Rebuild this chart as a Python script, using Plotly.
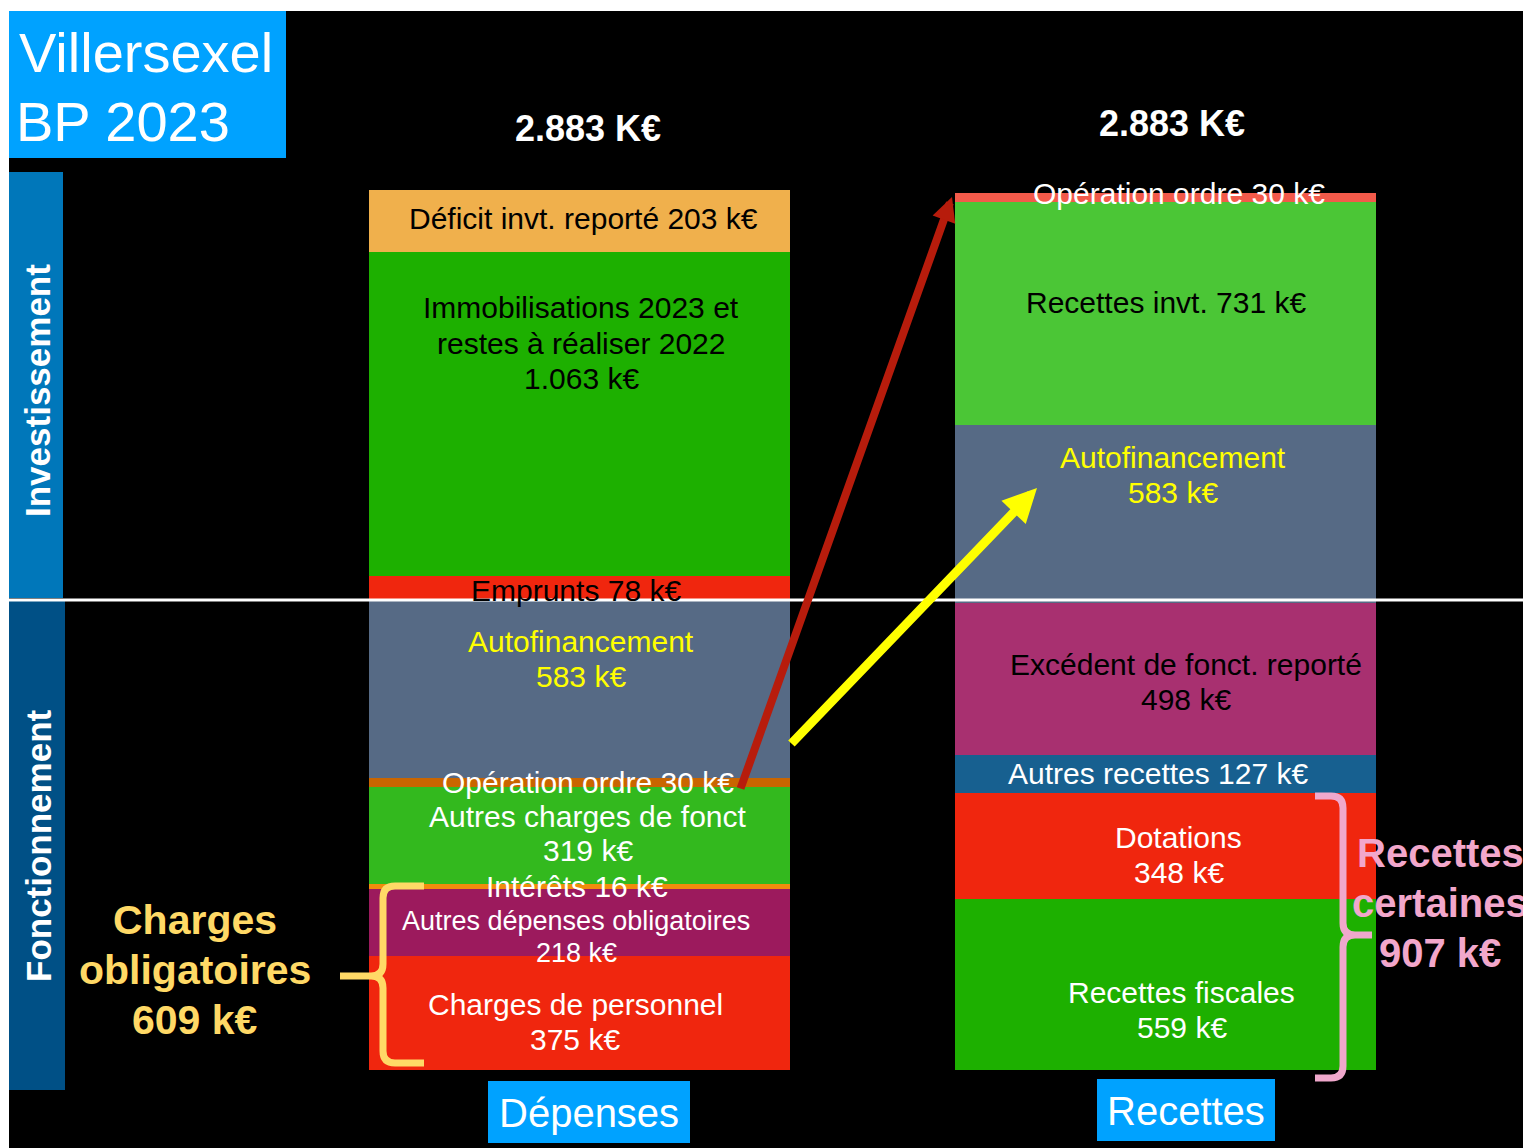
import plotly.graph_objects as go

# ---------------- data ----------------
categories = ["Dépenses", "Recettes"]

depenses_labels = ["Charges de personnel<br>{v} k€",
                   "Autres dépenses obligatoires<br>{v} k€",
                   "Intérêts {v} k€",
                   "Autres charges de fonct<br>{v} k€",
                   "Opération ordre {v} k€",
                   "Autofinancement<br>{v} k€",
                   "Emprunts {v} k€",
                   "Immobilisations 2023 et<br>restes à réaliser 2022<br>{v} k€",
                   "Déficit invt. reporté {v} k€"]
depenses_values = [375, 218, 16, 319, 30, 583, 78, 1063, 203]

recettes_labels = ["Recettes fiscales<br>{v} k€",
                   "Dotations<br>{v} k€",
                   "Autres recettes {v} k€",
                   "Excédent de fonct. reporté<br>{v} k€",
                   "Autofinancement<br>{v} k€",
                   "Recettes invt. {v} k€",
                   "Opération ordre {v} k€"]
recettes_values = [559, 348, 127, 498, 583, 731, 30]

totals = [2883, 2883]
charges_obligatoires = 609
recettes_certaines = 907

# ---------------- styles ----------------
dep_colors = ["#F0260E", "#9C1A5D", "#F28C0C", "#33B91E", "#C96500",
              "#566A85", "#F0260E", "#1DB000", "#F0B04C"]
dep_text_colors = ["white", "white", "white", "white", "white",
                   "#FFFF00", "black", "black", "black"]
dep_dx = [-4, -3, -2, 9, 9, 2, -3, 2, 4]
dep_dy = [-9, -15, 0, 2, 0, 30, -2, 71, 2]
dep_fs = [30, 27, 30, 30, 30, 30, 30, 30, 30]
dep_ls = [35, 32, 35, 34, 35, 35, 35, 35.5, 35]

rec_colors = ["#1DB000", "#F0260E", "#176090", "#A83070", "#566A85",
              "#4BC636", "#F25A4A"]
rec_text_colors = ["white", "white", "white", "black", "#FFFF00",
                   "black", "white"]
rec_dx = [16, 13, -8, 20, 7, 0, 13]
rec_dy = [-25, -9, 0, -3, 39, 11, 4]
rec_fs = [30] * 7
rec_ls = [35] * 7

W, H = 1531, 1148
OFF = 8  # page margin offset of the figure on screen
FONT = "Liberation Sans, Arial, sans-serif"


def fmt(v):
    return f"{v:,}".replace(",", ".")


def px(x):
    return (x - OFF) / W


def py(y):
    return 1 - (y - OFF) / H


# pixel mapping of axes (figure pixels)
bottom_px, top_px = 1070 - OFF, 190 - OFF
kpx = (bottom_px - top_px) / sum(depenses_values)
cat_c0, cat_step = 579 - OFF, 586.5
bar_w = 421 / cat_step

fig = go.Figure()


def add_stack(cat, labels, values, colors):
    for lab, v, c in zip(labels, values, colors):
        fig.add_trace(go.Bar(
            x=[cat], y=[v], width=bar_w, marker=dict(color=c, line=dict(width=0)),
            name=lab.split("<br>")[0].replace(" {v} k€", ""),
            showlegend=False, hoverinfo="skip"))


add_stack(categories[0], depenses_labels, depenses_values, dep_colors)
add_stack(categories[1], recettes_labels, recettes_values, rec_colors)

annotations = []


def add_labels(cat, labels, values, tcolors, dx, dy, fs, ls):
    cum = 0
    for lab, v, tc, sx, sy, f, sp in zip(labels, values, tcolors, dx, dy, fs, ls):
        lines = lab.format(v=fmt(v)).split("<br>")
        n = len(lines)
        for i, line in enumerate(lines):
            off = (i - (n - 1) / 2) * sp
            annotations.append(dict(
                x=cat, y=cum + v / 2, xref="x", yref="y", showarrow=False,
                xanchor="center", yanchor="middle",
                text=line, xshift=sx, yshift=sy - off,
                font=dict(family=FONT, size=f, color=tc), align="center"))
        cum += v


add_labels(categories[0], depenses_labels, depenses_values, dep_text_colors,
           dep_dx, dep_dy, dep_fs, dep_ls)
add_labels(categories[1], recettes_labels, recettes_values, rec_text_colors,
           rec_dx, rec_dy, rec_fs, rec_ls)

# totals above bars
for cat, t, sy, sx in zip(categories, totals, [62, 67], [9, 6]):
    annotations.append(dict(
        x=cat, y=sum(depenses_values), xref="x", yref="y", showarrow=False,
        xanchor="center", yanchor="middle",
        text=f"<b>{fmt(t)} K€</b>", yshift=sy, xshift=sx,
        font=dict(family=FONT, size=36, color="white")))


def rect(x0, y0, x1, y1, color, layer="below"):
    return dict(type="rect", xref="paper", yref="paper", x0=px(x0), x1=px(x1),
                y0=py(y1), y1=py(y0), fillcolor=color, line_width=0, layer=layer)


shapes = []
shapes.append(dict(type="rect", xref="paper", yref="paper", x0=px(9), x1=1,
                   y0=0, y1=py(11), fillcolor="black", line_width=0, layer="below"))
shapes.append(rect(9, 11, 286, 158, "#00A2FF"))          # title box
shapes.append(rect(9, 172, 63, 598, "#0077BA"))          # Investissement band
shapes.append(rect(9, 601, 65, 1090, "#005086"))         # Fonctionnement band
shapes.append(rect(488, 1081, 690, 1143, "#00A2FF"))     # Dépenses box
shapes.append(rect(1097, 1079, 1275, 1141, "#00A2FF"))   # Recettes box
shapes.append(dict(type="line", xref="paper", yref="paper", x0=px(9), x1=1,
                   y0=py(600), y1=py(600), line=dict(color="white", width=3), layer="above"))


def path(pts):
    out = []
    for p in pts:
        if isinstance(p, str):
            out.append(p)
        else:
            out.append(f"{px(p[0]):.5f},{py(p[1]):.5f}")
    return " ".join(out)


# yellow brace
yb = path(["M", (424, 886), "L", (395, 886), "Q", (383, 886), (383, 898),
           "L", (383, 964), "Q", (383, 976), (371, 976), "L", (340, 976),
           "M", (371, 976), "Q", (383, 976), (383, 988), "L", (383, 1051),
           "Q", (383, 1063), (395, 1063), "L", (424, 1063)])
shapes.append(dict(type="path", xref="paper", yref="paper", path=yb,
                   line=dict(color="#FFD966", width=7), layer="above"))
# pink brace
pb = path(["M", (1315, 796), "L", (1331, 796), "Q", (1343, 796), (1343, 808),
           "L", (1343, 923), "Q", (1343, 935), (1355, 935), "L", (1372, 935),
           "M", (1355, 935), "Q", (1343, 935), (1343, 947), "L", (1343, 1066),
           "Q", (1343, 1078), (1331, 1078), "L", (1315, 1078)])
shapes.append(dict(type="path", xref="paper", yref="paper", path=pb,
                   line=dict(color="#F0A8CC", width=7), layer="above"))

# arrows
annotations.append(dict(x=px(952), y=py(197), xref="paper", yref="paper",
                        ax=740 - 952, ay=790 - 197, axref="pixel", ayref="pixel",
                        text="", showarrow=True, arrowhead=2, arrowsize=0.6,
                        arrowwidth=8, arrowcolor="#B71C0C"))
annotations.append(dict(x=px(1037), y=py(488), xref="paper", yref="paper",
                        ax=790 - 1037, ay=745 - 488, axref="pixel", ayref="pixel",
                        text="", showarrow=True, arrowhead=2, arrowsize=0.75,
                        arrowwidth=9, arrowcolor="#FFFF00"))


def note(x, y, text, size, color, xanchor="center", angle=0):
    annotations.append(dict(x=px(x), y=py(y), xref="paper", yref="paper",
                            xanchor=xanchor, yanchor="middle", showarrow=False,
                            text=text, textangle=angle, align="center",
                            font=dict(family=FONT, size=size, color=color)))


note(17, 53, "Villersexel", 56, "white", xanchor="left")
note(14, 121, "BP 2023", 56, "white", xanchor="left")
note(37, 391, "<b>Investissement</b>", 35, "white", angle=-90)
note(38, 846, "<b>Fonctionnement</b>", 35, "white", angle=-90)
note(589, 1113, categories[0], 40, "white")
note(1186, 1111, categories[1], 40, "white")

for i, line in enumerate(["Charges", "obligatoires", f"{charges_obligatoires} k€"]):
    note(195, 920 + 50 * i, f"<b>{line}</b>", 41, "#FFD966")
for i, line in enumerate(["Recettes", "certaines", f"{recettes_certaines} k€"]):
    note(1440, 853 + 50 * i, f"<b>{line}</b>", 40, "#F2A7CB")

fig.update_layout(
    width=W, height=H, autosize=False,
    margin=dict(l=0, r=0, t=0, b=0),
    paper_bgcolor="white", plot_bgcolor="white",
    barmode="stack", showlegend=False,
    xaxis=dict(range=[-cat_c0 / cat_step, (W - cat_c0) / cat_step], visible=False,
               categoryorder="array", categoryarray=categories, fixedrange=True),
    yaxis=dict(range=[-(H - bottom_px) / kpx, bottom_px / kpx], visible=False,
               fixedrange=True),
    shapes=shapes, annotations=annotations,
)

fig.write_html("out.html")
